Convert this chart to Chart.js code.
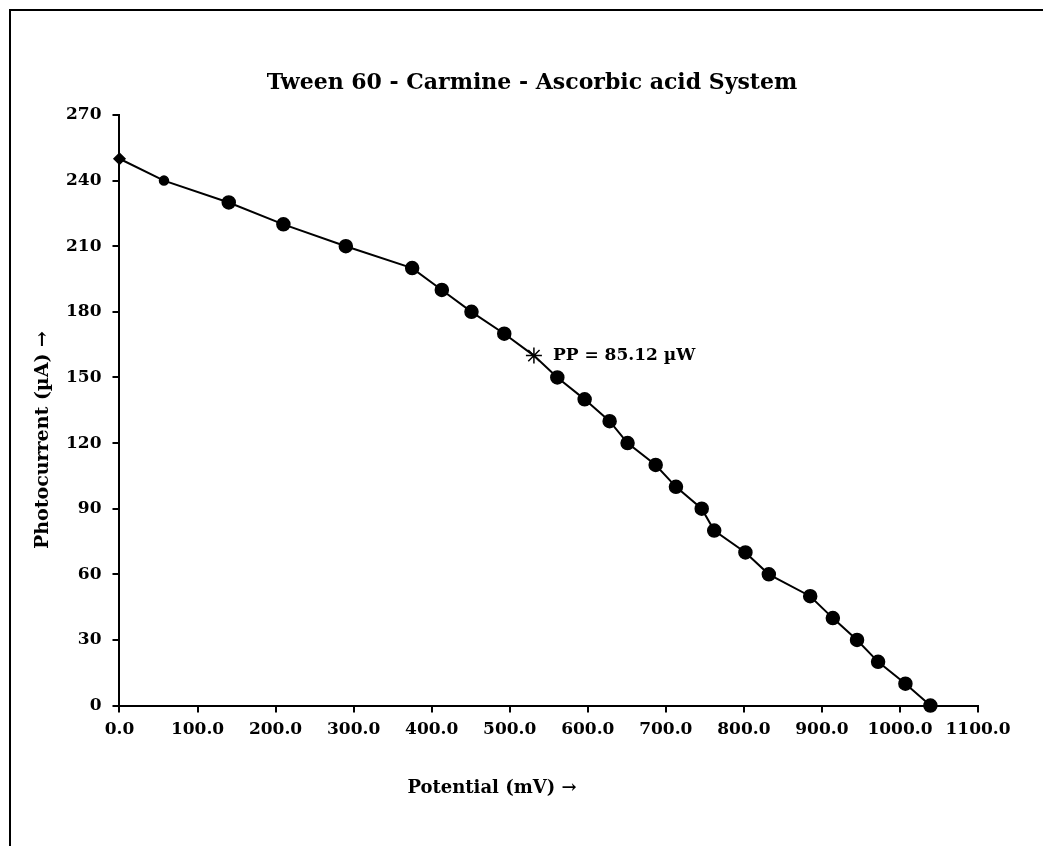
<!DOCTYPE html>
<html>
<head>
<meta charset="utf-8">
<script src="https://cdn.jsdelivr.net/npm/chart.js@4"></script>
<style>
    html, body { margin: 0; padding: 0; background: #fff; overflow: hidden; }
    #frame { position: absolute; left: 9px; top: 9px; width: 1100px; height: 900px; border: 2px solid #000; }
    #wrap { position: absolute; left: 0; top: 0; width: 1043px; height: 846px; }
</style>
</head>
<body>
<div id="frame"></div>
<div id="wrap"><canvas id="chart"></canvas></div>
<script>
// Potential (mV) vs photocurrent (µA)
const potential = [0, 57, 140, 210, 290, 375, 413, 451, 493, 531, 561, 596, 628,
                   651, 687, 713, 746, 762, 802, 832, 885, 914, 945, 972, 1007, 1039];
const current   = [250, 240, 230, 220, 210, 200, 190, 180, 170, 160, 150, 140, 130,
                   120, 110, 100, 90, 80, 70, 60, 50, 40, 30, 20, 10, 0];
const ppIndex = 9;
const ppLabel = "PP = 85.12 \u00b5W";
const chartTitle = "Tween 60 - Carmine - Ascorbic acid System";
const xTitle = "Potential (mV) \u2192";
const yTitle = "Photocurrent (\u00b5A) \u2192";

const FONT = "'DejaVu Serif', serif";

const styles = potential.map((_, i) => i === 0 ? "rectRot" : i === ppIndex ? "star" : "circle");
const radii  = potential.map((_, i) => i === 0 ? 5.5 : i === 1 ? 4.5 : i === ppIndex ? 8 : 6.5);

// titles + PP annotation (placed like the original sheet, not centred on the plot)
const textPlugin = {
    id: "texts",
    afterDraw(chart) {
        const ctx = chart.ctx;
        ctx.save();
        ctx.fillStyle = "#000";
        ctx.textAlign = "center";
        ctx.textBaseline = "middle";

        ctx.font = "bold 22px " + FONT;
        ctx.fillText(chartTitle, 532, 83);

        ctx.font = "bold 18px " + FONT;
        ctx.fillText(xTitle, 492, 788);

        ctx.save();
        ctx.translate(43, 440);
        ctx.rotate(-Math.PI / 2);
        ctx.font = "bold 19px " + FONT;
        ctx.fillText(yTitle, 0, 0);
        ctx.restore();

        const pt = chart.getDatasetMeta(0).data[ppIndex];
        ctx.font = "bold 17px " + FONT;
        ctx.textAlign = "left";
        ctx.fillText(ppLabel, pt.x + 19, pt.y);
        ctx.restore();
    }
};

new Chart(document.getElementById("chart"), {
    type: "line",
    data: {
        datasets: [{
            data: potential.map((x, i) => ({ x, y: current[i] })),
            borderColor: "#000", borderWidth: 2, tension: 0, clip: false,
            pointStyle: styles, pointRadius: radii,
            pointBackgroundColor: "#000", pointBorderColor: "#000", pointBorderWidth: 1.5,
        }]
    },
    options: {
        responsive: true, maintainAspectRatio: false, animation: false,
        layout: { padding: { left: 55, right: 65, top: 115, bottom: 99 } },
        plugins: { legend: { display: false }, tooltip: { enabled: false } },
        scales: {
            x: {
                type: "linear", min: 0, max: 1100,
                border: { color: "#000", width: 2 },
                grid: { drawOnChartArea: false, color: "#000", lineWidth: 2, tickLength: 7 },
                ticks: { stepSize: 100, color: "#000", padding: 7, font: { family: FONT, size: 17, weight: "bold" },
                         maxRotation: 0, callback: v => Number(v).toFixed(1) }
            },
            y: {
                min: 0, max: 270,
                border: { color: "#000", width: 2 },
                grid: { drawOnChartArea: false, color: "#000", lineWidth: 2, tickLength: 7 },
                ticks: { stepSize: 30, color: "#000", padding: 11, font: { family: FONT, size: 17, weight: "bold" } }
            }
        }
    },
    plugins: [textPlugin]
});
</script>
</body>
</html>
